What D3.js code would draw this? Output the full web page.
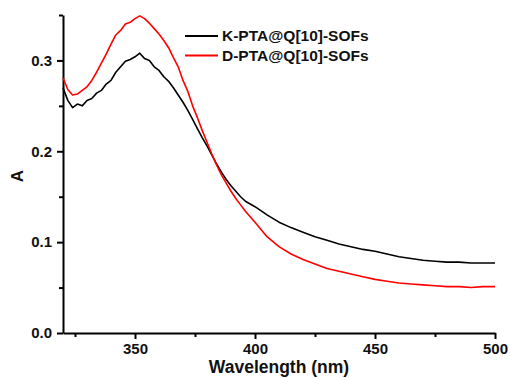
<!DOCTYPE html>
<html>
<head>
<meta charset="utf-8">
<script src="https://cdn.jsdelivr.net/npm/d3@7"></script>
<style>
  body { margin: 0; background: #fff; }
  svg text { font-family: "Liberation Sans", Arial, sans-serif; font-weight: bold; fill: #111; }
</style>
</head>
<body>
<div id="chart"></div>
<script>
// wavelengths (nm)
const wavelengths = [
  320,322,324,326,328,330,332,334,336,338,340,342,344,346,348,350,352,354,356,358,
  360,362,364,366,368,370,372,374,376,378,380,382,384,386,388,390,392,394,396,398,
  400,405,410,415,420,425,430,435,440,445,450,455,460,465,470,475,480,485,490,495,500
];
// K-PTA@Q[10]-SOFs (black)
const kValues = [
  0.270,0.256,0.248,0.252,0.250,0.256,0.258,0.264,0.267,0.274,0.278,0.287,0.293,0.299,0.301,0.304,0.308,0.302,0.300,0.293,
  0.289,0.282,0.277,0.270,0.262,0.254,0.245,0.235,0.225,0.215,0.206,0.196,0.186,0.177,0.169,0.162,0.156,0.150,0.145,0.142,
  0.139,0.130,0.122,0.116,0.111,0.106,0.102,0.098,0.095,0.092,0.090,0.087,0.084,0.082,0.080,0.079,0.078,0.078,0.077,0.077,0.077
];
// D-PTA@Q[10]-SOFs (red)
const dValues = [
  0.281,0.268,0.262,0.263,0.267,0.271,0.278,0.287,0.297,0.307,0.318,0.328,0.333,0.340,0.342,0.346,0.349,0.346,0.341,0.335,
  0.329,0.322,0.314,0.303,0.293,0.278,0.266,0.250,0.237,0.223,0.210,0.197,0.185,0.174,0.165,0.156,0.148,0.141,0.134,0.128,
  0.122,0.106,0.095,0.087,0.081,0.076,0.071,0.068,0.065,0.062,0.059,0.057,0.055,0.054,0.053,0.052,0.051,0.051,0.050,0.051,0.051
];
const seriesNames = ["K-PTA@Q[10]-SOFs", "D-PTA@Q[10]-SOFs"];
const seriesColors = ["#000000", "#ff0000"];

const xMajor = [350, 400, 450, 500];
const xMinor = [325, 375, 425, 475];
const yMajor = [0.0, 0.1, 0.2, 0.3];
const yMinor = [0.05, 0.15, 0.25, 0.35];

const width = 510, height = 378;
const margin = {left: 63, right: 15, top: 15, bottom: 45};

const svg = d3.select("#chart").append("svg")
  .attr("width", width)
  .attr("height", height);

const x = d3.scaleLinear().domain([320, 500]).range([margin.left, width - margin.right]);
const y = d3.scaleLinear().domain([0, 0.35]).range([height - margin.bottom, margin.top]);

// x axis
svg.append("g")
  .attr("transform", "translate(0," + y(0) + ")")
  .call(d3.axisBottom(x).tickValues(xMajor).tickSize(6).tickSizeOuter(0).tickPadding(4).tickFormat(d3.format("d")));
svg.append("g")
  .attr("transform", "translate(0," + y(0) + ")")
  .call(d3.axisBottom(x).tickValues(xMinor).tickSize(4).tickSizeOuter(0).tickFormat(""))
  .select(".domain").remove();

// y axis
svg.append("g")
  .attr("transform", "translate(" + x(320) + ",0)")
  .call(d3.axisLeft(y).tickValues(yMajor).tickSize(6).tickSizeOuter(0).tickPadding(5).tickFormat(d3.format(".1f")));
svg.append("g")
  .attr("transform", "translate(" + x(320) + ",0)")
  .call(d3.axisLeft(y).tickValues(yMinor).tickSize(4).tickSizeOuter(0).tickFormat(""))
  .select(".domain").remove();

svg.selectAll(".domain, .tick line").attr("stroke", "#000").attr("stroke-width", 2);
svg.selectAll(".tick text").attr("font-size", "15px").style("font-family", "'Liberation Sans', Arial, sans-serif").style("font-weight", "bold");

// axis titles
svg.append("text")
  .attr("x", (x(320) + x(500)) / 2)
  .attr("y", 373)
  .attr("text-anchor", "middle")
  .attr("font-size", "17.5px")
  .text("Wavelength (nm)");

svg.append("text")
  .attr("transform", "translate(23,176) rotate(-90)")
  .attr("text-anchor", "middle")
  .attr("font-size", "17px")
  .text("A");

// curves
const line = d3.line()
  .x((d, i) => x(wavelengths[i]))
  .y(d => y(d));

[kValues, dValues].forEach(function(vals, k) {
  svg.append("path")
    .datum(vals)
    .attr("fill", "none")
    .attr("stroke", seriesColors[k])
    .attr("stroke-width", 1.6)
    .attr("stroke-linejoin", "round")
    .attr("d", line);
});

// legend
const legend = svg.selectAll(".legend")
  .data(seriesNames)
  .enter().append("g")
  .attr("class", "legend")
  .attr("transform", (d, i) => "translate(185," + (36 + i * 19.5) + ")");

legend.append("line")
  .attr("x1", 0).attr("x2", 33)
  .attr("stroke", (d, i) => seriesColors[i])
  .attr("stroke-width", 2);

legend.append("text")
  .attr("x", 37)
  .attr("y", 5)
  .attr("font-size", "15.5px")
  .text(d => d);
</script>
</body>
</html>
